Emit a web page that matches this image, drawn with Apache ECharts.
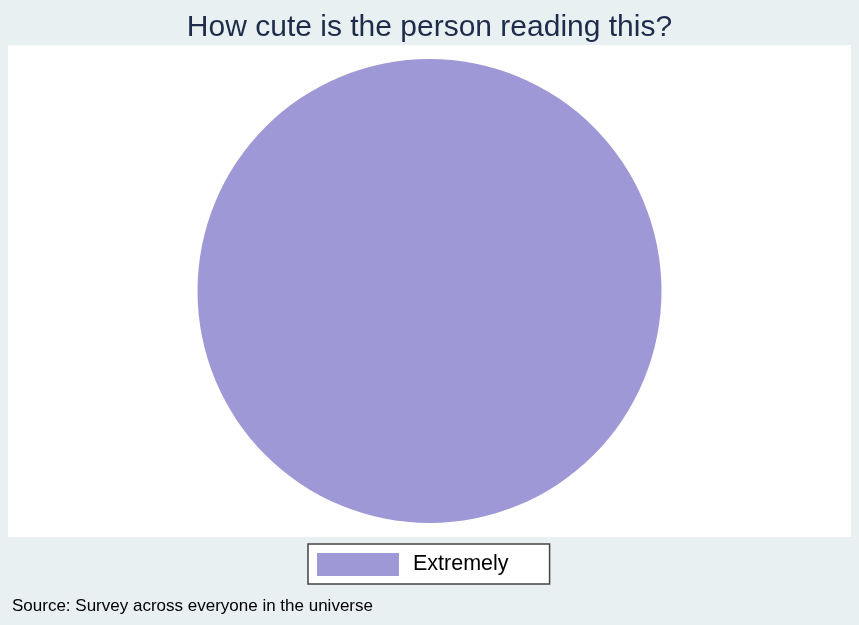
<!DOCTYPE html>
<html>
<head>
<meta charset="utf-8">
<title>How cute</title>
<script src="https://cdn.jsdelivr.net/npm/echarts@6/dist/echarts.min.js"></script>
<style>
  html, body { margin: 0; padding: 0; background: #e8f0f2; }
  #container { width: 859px; height: 625px; }
</style>
</head>
<body>
<div id="container"></div>
<script>
// data
var categories = ['Extremely'];
var values = [100];
var colors = ['#9f98d6'];

var chart = echarts.init(document.getElementById('container'));

var pieData = [];
for (var i = 0; i < categories.length; i++) {
    pieData.push({ name: categories[i], value: values[i], itemStyle: { color: colors[i] } });
}

var option = {
    backgroundColor: '#e8f0f2',
    animation: false,
    title: {
        text: 'How cute is the person reading this?',
        left: 'center',
        top: 8,
        textStyle: { fontFamily: 'Liberation Sans, Arial', fontSize: 30, fontWeight: 'normal', color: '#1e2b4a' }
    },
    graphic: [
        // white plot panel
        { type: 'rect', z: -10, shape: { x: 8, y: 45, width: 843, height: 492 }, style: { fill: '#ffffff' } },
        { type: 'text', left: 12, top: 598, style: { text: 'Source: Survey across everyone in the universe', fontFamily: 'Liberation Sans, Arial', fontSize: 17, fill: '#000000' } }
    ],
    legend: {
        left: 308,
        top: 544,
        orient: 'horizontal',
        backgroundColor: '#ffffff',
        borderColor: '#444444',
        borderWidth: 1.5,
        borderRadius: 0,
        padding: [9, 41, 8, 9],
        itemWidth: 82,
        itemHeight: 23,
        icon: 'rect',
        selectedMode: false,
        textStyle: { fontFamily: 'Liberation Sans, Arial', fontSize: 21.5, color: '#000000', padding: [3, 0, 0, 9] },
        data: categories
    },
    series: [{
        type: 'pie',
        center: [429.5, 291],
        radius: [0, 232],
        silent: true,
        label: { show: false },
        labelLine: { show: false },
        itemStyle: { borderWidth: 0 },
        data: pieData
    }]
};
chart.setOption(option);
</script>
</body>
</html>
